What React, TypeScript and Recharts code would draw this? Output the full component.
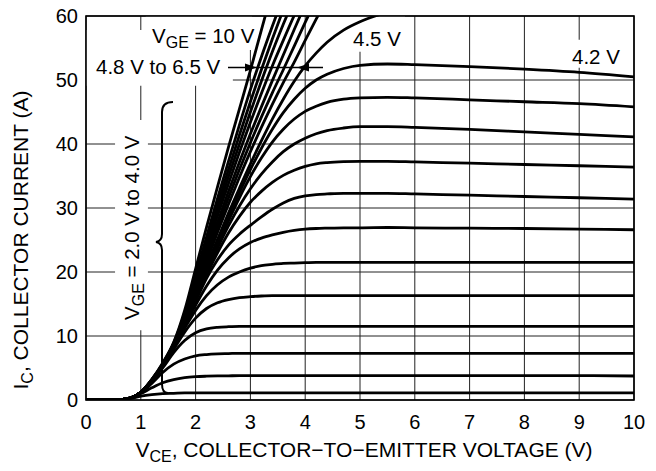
import { LineChart, Line, XAxis, YAxis, CartesianGrid, ReferenceArea } from 'recharts'

const FONT = "'Liberation Sans', Arial, Helvetica, sans-serif"

// V_CE sample points (V)
const VCE = [0, 0.5, 0.8, 1.0, 1.2, 1.4, 1.6, 1.8,
  2.0, 2.2, 2.4, 2.6, 2.8, 3.0, 3.2, 3.4, 3.6, 3.8, 4.0,
  4.2, 4.4, 4.7, 5.0, 5.5, 6, 7, 8, 9, 10]

// I_C (A) for each V_GE; shorter arrays leave the plot at the top
const IC_2_0 = [0, 0, 0.2, 0.6, 0.85, 1.0, 1.05, 1.1,
  1.1, 1.1, 1.1, 1.1, 1.1, 1.1, 1.1, 1.1, 1.1, 1.1, 1.1,
  1.1, 1.1, 1.1, 1.1, 1.1, 1.1, 1.1, 1.1, 1.1, 1.1]
const IC_2_2 = [0, 0, 0.3, 1.0, 1.9, 2.7, 3.2, 3.5,
  3.65, 3.72, 3.76, 3.78, 3.8, 3.8, 3.8, 3.8, 3.8, 3.8, 3.8,
  3.8, 3.8, 3.8, 3.8, 3.8, 3.8, 3.8, 3.8, 3.8, 3.75]
const IC_2_4 = [0, 0, 0.3, 1.1, 2.6, 4.3, 5.6, 6.4,
  6.9, 7.1, 7.2, 7.25, 7.3, 7.3, 7.3, 7.3, 7.3, 7.3, 7.3,
  7.3, 7.3, 7.3, 7.3, 7.3, 7.3, 7.3, 7.3, 7.3, 7.3]
const IC_2_6 = [0, 0, 0.3, 1.2, 2.9, 5.0, 7.4, 9.3,
  10.5, 11.1, 11.35, 11.45, 11.5, 11.5, 11.5, 11.5, 11.5, 11.5, 11.5,
  11.5, 11.5, 11.5, 11.5, 11.5, 11.5, 11.5, 11.5, 11.5, 11.5]
const IC_2_8 = [0, 0, 0.3, 1.2, 3.0, 5.2, 7.9, 10.6,
  12.8, 14.3, 15.2, 15.7, 16.0, 16.15, 16.25, 16.3, 16.3, 16.3, 16.3,
  16.3, 16.3, 16.3, 16.3, 16.3, 16.3, 16.3, 16.3, 16.3, 16.3]
const IC_3_0 = [0, 0, 0.3, 1.2, 3.0, 5.3, 8.1, 11.2,
  14.0, 16.3, 18.0, 19.2, 20.0, 20.6, 21.0, 21.2, 21.35, 21.4, 21.45,
  21.5, 21.5, 21.5, 21.5, 21.5, 21.5, 21.5, 21.5, 21.5, 21.5]
const IC_3_2 = [0, 0, 0.3, 1.2, 3.0, 5.3, 8.2, 11.6,
  14.8, 17.8, 20.3, 22.2, 23.6, 24.6, 25.3, 25.8, 26.2, 26.5, 26.7,
  26.8, 26.85, 26.9, 26.9, 26.95, 26.9, 26.85, 26.8, 26.7, 26.6]
const IC_3_4 = [0, 0, 0.3, 1.2, 3.0, 5.3, 8.2, 11.8,
  15.4, 19.0, 21.9, 24.2, 25.9, 27.3, 28.6, 29.8, 30.8, 31.5, 31.9,
  32.1, 32.2, 32.3, 32.3, 32.3, 32.2, 32.0, 31.8, 31.6, 31.4]
const IC_3_6 = [0, 0, 0.3, 1.2, 3.0, 5.3, 8.2, 11.8,
  15.7, 19.5, 23.0, 26.1, 28.7, 30.9, 32.6, 34.0, 35.1, 35.9, 36.5,
  36.9, 37.1, 37.25, 37.3, 37.3, 37.2, 37.0, 36.8, 36.6, 36.4]
const IC_3_8 = [0, 0, 0.3, 1.2, 3.0, 5.3, 8.2, 11.8,
  15.9, 19.9, 23.7, 27.2, 30.3, 33.0, 35.3, 37.2, 38.8, 40.0, 40.9,
  41.6, 42.1, 42.5, 42.7, 42.7, 42.6, 42.3, 41.9, 41.5, 41.1]
const IC_4_0 = [0, 0, 0.3, 1.2, 3.0, 5.3, 8.2, 11.8,
  16.1, 20.2, 24.2, 28.0, 31.6, 34.9, 37.8, 40.3, 42.3, 43.9, 45.1,
  45.9, 46.5, 47.0, 47.2, 47.3, 47.2, 46.9, 46.6, 46.3, 45.8]
const IC_4_2 = [0, 0, 0.3, 1.2, 3.0, 5.3, 8.2, 11.8,
  16.3, 20.5, 24.6, 28.6, 32.4, 36.0, 39.3, 42.3, 44.9, 47.0, 48.7,
  50.0, 50.9, 51.8, 52.3, 52.5, 52.4, 52.1, 51.7, 51.2, 50.5]
const IC_4_5 = [0, 0, 0.3, 1.2, 3.0, 5.3, 8.2, 11.9,
  16.5, 20.9, 25.1, 29.2, 33.1, 36.9, 40.5, 43.9, 47.0, 49.8, 52.2,
  54.2, 55.9, 57.8, 59.1, 60.6, 61.6]
const IC_4_8 = [0, 0, 0.3, 1.2, 3.0, 5.4, 8.3, 12.1,
  16.8, 21.6, 26.2, 30.6, 34.8, 38.8, 42.6, 46.2, 49.6, 52.8, 56.2,
  59.5, 62.7]
const IC_5_0 = [0, 0, 0.3, 1.2, 3.0, 5.4, 8.4, 12.4,
  17.2, 22.2, 27.0, 31.6, 36.0, 40.2, 44.2, 48.0, 51.6, 55.3, 59.0,
  62.6]
const IC_5_2 = [0, 0, 0.3, 1.2, 3.1, 5.5, 8.5, 12.6,
  17.7, 22.8, 27.8, 32.6, 37.2, 41.6, 45.8, 49.9, 53.9, 57.9, 61.8]
const IC_5_4 = [0, 0, 0.3, 1.2, 3.1, 5.5, 8.6, 12.8,
  18.2, 23.6, 28.8, 33.8, 38.7, 43.4, 47.9, 52.2, 56.2, 60.1, 63.8]
const IC_5_7 = [0, 0, 0.3, 1.2, 3.1, 5.6, 8.7, 13.0,
  18.6, 24.2, 29.6, 34.9, 40.0, 45.0, 49.8, 54.4, 58.7, 62.8]
const IC_6_0 = [0, 0, 0.3, 1.2, 3.2, 5.6, 8.8, 13.3,
  19.0, 24.8, 30.5, 36.0, 41.4, 46.6, 51.6, 56.4, 61.0, 65.5]
const IC_6_5 = [0, 0, 0.3, 1.2, 3.2, 5.7, 8.9, 13.6,
  19.5, 25.5, 31.5, 37.3, 43.0, 48.5, 53.6, 58.4, 63.0]
const IC_10 = [0, 0, 0.3, 1.2, 3.2, 5.8, 9.0, 14.0,
  20.5, 27.0, 33.3, 39.5, 45.5, 51.5, 57.8, 64.0]

const CURVES = [IC_2_0, IC_2_2, IC_2_4, IC_2_6, IC_2_8, IC_3_0, IC_3_2, IC_3_4, IC_3_6,
  IC_3_8, IC_4_0, IC_4_2, IC_4_5, IC_4_8, IC_5_0, IC_5_2, IC_5_4, IC_5_7, IC_6_0, IC_6_5, IC_10]

const X_TICKS = [0, 1, 2, 3, 4, 5, 6, 7, 8, 9, 10]
const Y_TICKS = [0, 10, 20, 30, 40, 50, 60]

// white patches that cut the grid behind the annotations, [x1, x2, y1, y2] in data units
const PATCHES = [
  [1.09, 3.03, 54.7, 60],
  [0, 2.68, 49.1, 57.8],
  [0.53, 1.13, 10.9, 43.75],
  [4.82, 5.82, 54.4, 60],
  [8.76, 9.85, 51.9, 56.3],
]

const rows = VCE.map((x, i) => {
  const r: any = { x }
  CURVES.forEach((c, k) => { r['c' + k] = c[i] ?? null })
  return r
})

const tickStyle = { fontSize: 20, fill: '#000', fontFamily: FONT }

export default function App() {
  return (
    <div style={{ position: 'absolute', left: 0, top: 0, width: 656, height: 471, background: '#fff' }}>
      <LineChart width={656} height={471} data={rows}
        margin={{ top: 16, right: 22, bottom: 0, left: 0 }}>
        <CartesianGrid stroke="#222" strokeWidth={1} />
        <XAxis type="number" dataKey="x" domain={[0, 10]} ticks={X_TICKS} interval={0}
          axisLine={false} tickLine={false} tickMargin={9} height={71} tick={tickStyle} />
        <YAxis type="number" domain={[0, 60]} ticks={Y_TICKS} allowDataOverflow interval={0}
          axisLine={false} tickLine={false} width={86} tick={tickStyle} />
        {PATCHES.map((p, i) => (
          <ReferenceArea key={i} x1={p[0]} x2={p[1]} y1={p[2]} y2={p[3]}
            fill="#fff" fillOpacity={1} stroke="none" />
        ))}
        {CURVES.map((_, k) => (
          <Line key={k} type="monotone" dataKey={'c' + k} stroke="#000" strokeWidth={2.8}
            dot={false} activeDot={false} connectNulls={false} isAnimationActive={false} />
        ))}
      </LineChart>
      <svg width={656} height={471} fontFamily={FONT}
        style={{ position: 'absolute', left: 0, top: 0, pointerEvents: 'none' }}>
        <rect x={86} y={16} width={548} height={384} fill="none" stroke="#000" strokeWidth={1.6} />
        <text x={152} y={43} fontSize={20.5}>V<tspan fontSize={16} dy={5}>GE</tspan><tspan dy={-5}> = 10 V</tspan></text>
        <text x={96} y={74} fontSize={20.5}>4.8 V to 6.5 V</text>
        <line x1={228} y1={67.5} x2={323} y2={67.5} stroke="#000" strokeWidth={1.3} />
        <path d="M245 63.5 L257 67.5 L245 71.5 Z" fill="#000" />
        <path d="M309 63.5 L297 67.5 L309 71.5 Z" fill="#000" />
        <text x={353} y={46} fontSize={20.5}>4.5 V</text>
        <text x={572} y={64} fontSize={20.5}>4.2 V</text>
        <text transform="translate(138.5 320) rotate(-90)" fontSize={20.5}>V<tspan fontSize={16} dy={5}>GE</tspan><tspan dy={-5}> = 2.0 V to 4.0 V</tspan></text>
        <path d="M173 102 Q162 102 162 112 L162 234 Q162 241 156 242 Q162 243 162 250 L162 384 Q162 393 168 393"
          fill="none" stroke="#000" strokeWidth={2} />
        <text transform="translate(28 240) rotate(-90)" textAnchor="middle" fontSize={21}>I<tspan fontSize={16} dy={5}>C</tspan><tspan dy={-5}>, COLLECTOR CURRENT (A)</tspan></text>
        <text x={364} y={457} textAnchor="middle" fontSize={21}>V<tspan fontSize={16} dy={5}>CE</tspan><tspan dy={-5}>, COLLECTOR−TO−EMITTER VOLTAGE (V)</tspan></text>
      </svg>
    </div>
  )
}
